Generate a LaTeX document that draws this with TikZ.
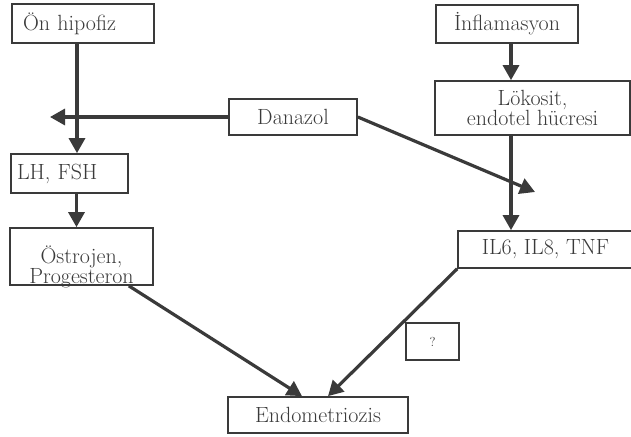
\documentclass[tikz,border=0pt]{standalone}
\usepackage{fontspec}
\usetikzlibrary{arrows.meta,positioning}
\definecolor{koyu}{HTML}{3A3A3A}
\tikzset{
    kutu/.style = {
        draw = koyu,
        line width = 1.7pt,
        text = koyu,
        align = center,
        inner sep = 0pt,
        },
    sol kutu/.style = {
        align = left,
        },
    ok/.style = {
        draw = koyu,
        line width = 3.2pt,
        -{Triangle[length=15pt, width=16pt]},
        },
}

\begin{document}
\begin{tikzpicture}[
                x=1pt, y=-1pt,
                font=\fontsize{22}{20}\selectfont\addfontfeatures{LetterSpace=10},
            ]
            \useasboundingbox (0,0) rectangle (631,436);

            \node [kutu, sol kutu, inner xsep=11pt, text width=120pt, minimum height=39pt] (hipofiz) at (83,23.5) {Ön hipofiz};
            \node [kutu, minimum width=142pt, minimum height=38pt] (inflam) at (507,24) {İnflamasyon};
            \node [kutu, minimum width=128pt, minimum height=36pt] (danazol) at (293,117) {Danazol};
            \node [kutu, minimum width=195pt, minimum height=54pt] (lokosit) at (532.5,108) {Lökosit,\\endotel hücresi};
            \node [kutu, sol kutu, inner xsep=6pt, text width=105pt, minimum height=39pt] (lhfsh) at (69.5,173.5) {LH, FSH};
            \node [kutu, minimum width=143pt, text height=55pt, text depth=2pt] (ostrojen) at (81.5,256.5) {Östrojen,\\Progesteron};
            \node [kutu, minimum width=175pt, minimum height=37pt] (il) at (545.5,249.5) {IL6, IL8, TNF};
            \node [kutu, minimum width=53pt, minimum height=37pt, font=\fontsize{13}{15}\selectfont] (soru) at (432.5,341.5) {?};
            \node [kutu, minimum width=180pt, minimum height=36pt] (endo) at (318,415) {Endometriozis};

            \coordinate (solucu) at (50,117);
            \coordinate (sagucu) at (535,192);

            % \draw[ok] (hipofiz) -- (lhfsh);
            \draw[ok] ([xshift=-6pt]hipofiz.south) -- ([xshift=-6pt]hipofiz.south |- lhfsh.north);
            \draw[ok] (danazol.west) -- (solucu);
            \draw[ok] (danazol.east) -- (sagucu);
            \draw[ok] ([xshift=4pt]inflam.south) -- ([xshift=4pt]inflam.south |- lokosit.north);
            \draw[ok] ([xshift=4pt]inflam.south |- lokosit.south) -- ([xshift=4pt]inflam.south |- il.north);
            \draw[ok] ([xshift=7pt]lhfsh.south) -- ([xshift=7pt]lhfsh.south |- ostrojen.north);
            \draw[ok] ([xshift=-25pt]ostrojen.south east) -- ([xshift=-16pt]endo.north);
            \draw[ok] (il.south west) -- ([xshift=10pt]endo.north);
        \end{tikzpicture}
\end{document}
